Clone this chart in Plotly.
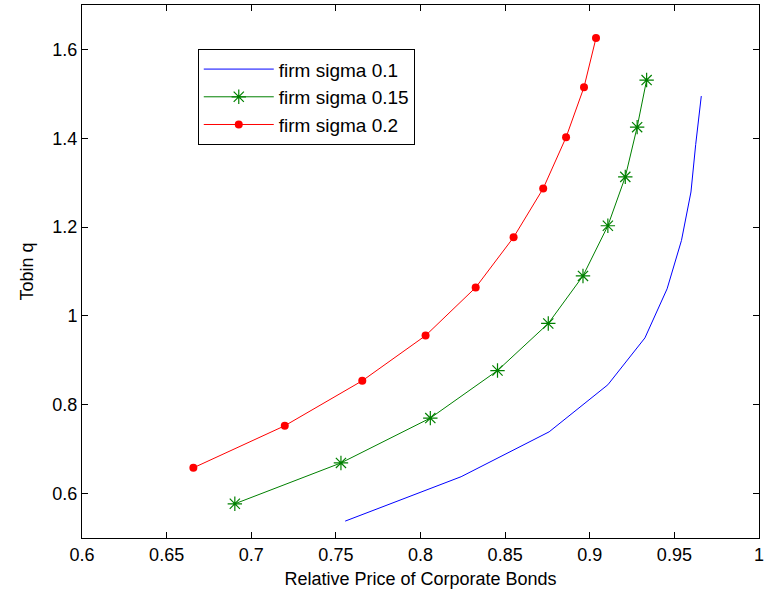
import plotly.graph_objects as go

# Data
blue_x = [0.7555, 0.824, 0.876, 0.9107, 0.9326, 0.9457, 0.9542, 0.9598, 0.9626, 0.9659]
blue_y = [0.538, 0.638, 0.739, 0.845, 0.9505, 1.061, 1.170, 1.279, 1.386, 1.495]

green_x = [0.6903, 0.753, 0.8058, 0.8455, 0.8755, 0.896, 0.9107, 0.921, 0.928, 0.9336]
green_y = [0.577, 0.669, 0.770, 0.877, 0.983, 1.090, 1.203, 1.313, 1.425, 1.531]

red_x = [0.6658, 0.7198, 0.7656, 0.803, 0.8326, 0.855, 0.8725, 0.886, 0.8966, 0.9037]
red_y = [0.658, 0.7527, 0.854, 0.9557, 1.064, 1.177, 1.287, 1.402, 1.515, 1.6257]

x_ticks = [0.6, 0.65, 0.7, 0.75, 0.8, 0.85, 0.9, 0.95, 1]
x_tick_labels = ["0.6", "0.65", "0.7", "0.75", "0.8", "0.85", "0.9", "0.95", "1"]
y_ticks = [0.6, 0.8, 1.0, 1.2, 1.4, 1.6]
y_tick_labels = ["0.6", "0.8", "1", "1.2", "1.4", "1.6"]

FONT = "Liberation Sans, Arial, sans-serif"
FS = 18

fig = go.Figure()
fig.add_trace(go.Scatter(x=blue_x, y=blue_y, mode="lines", name="firm sigma 0.1",
                         line=dict(color="rgb(0,0,255)", width=1)))
fig.add_trace(go.Scatter(x=green_x, y=green_y, mode="lines+markers", name="firm sigma 0.15",
                         line=dict(color="rgb(0,128,0)", width=1),
                         marker=dict(symbol="asterisk-open", size=12,
                                     line=dict(color="rgb(0,128,0)", width=1.2))))
fig.add_trace(go.Scatter(x=red_x, y=red_y, mode="lines+markers", name="firm sigma 0.2",
                         line=dict(color="rgb(255,0,0)", width=1),
                         marker=dict(symbol="circle", size=8, color="rgb(255,0,0)")))

axis_common = dict(showline=True, linecolor="black", linewidth=1, mirror="allticks",
                   ticks="inside", ticklen=6, tickcolor="black", tickwidth=1,
                   showgrid=False, zeroline=False, automargin=False,
                   ticklabeloverflow="allow",
                   tickfont=dict(family=FONT, size=FS, color="black"))

fig.update_xaxes(range=[0.6, 1.0], tickvals=x_ticks, ticktext=x_tick_labels,
                 title=dict(text="Relative Price of Corporate Bonds",
                            font=dict(family=FONT, size=FS, color="black"), standoff=8),
                 **axis_common)
fig.update_yaxes(range=[0.5, 1.7], tickvals=y_ticks, ticktext=y_tick_labels,
                 title=dict(text="Tobin q", font=dict(family=FONT, size=FS, color="black"),
                            standoff=14),
                 **axis_common)

fig.update_layout(
    width=766, height=596,
    margin=dict(l=82, r=7, t=5, b=58),
    plot_bgcolor="white", paper_bgcolor="white",
    font=dict(family=FONT, size=FS, color="black"),
    legend=dict(x=0.171, y=0.917, xanchor="left", yanchor="top",
                bgcolor="white", bordercolor="black", borderwidth=1,
                font=dict(family=FONT, size=19, color="black"),
                tracegroupgap=0, itemwidth=70),
    showlegend=True,
)

fig.write_html("out.html", config={"displayModeBar": False},
               post_script="document.body.style.margin='0';document.body.style.overflow='hidden';")
